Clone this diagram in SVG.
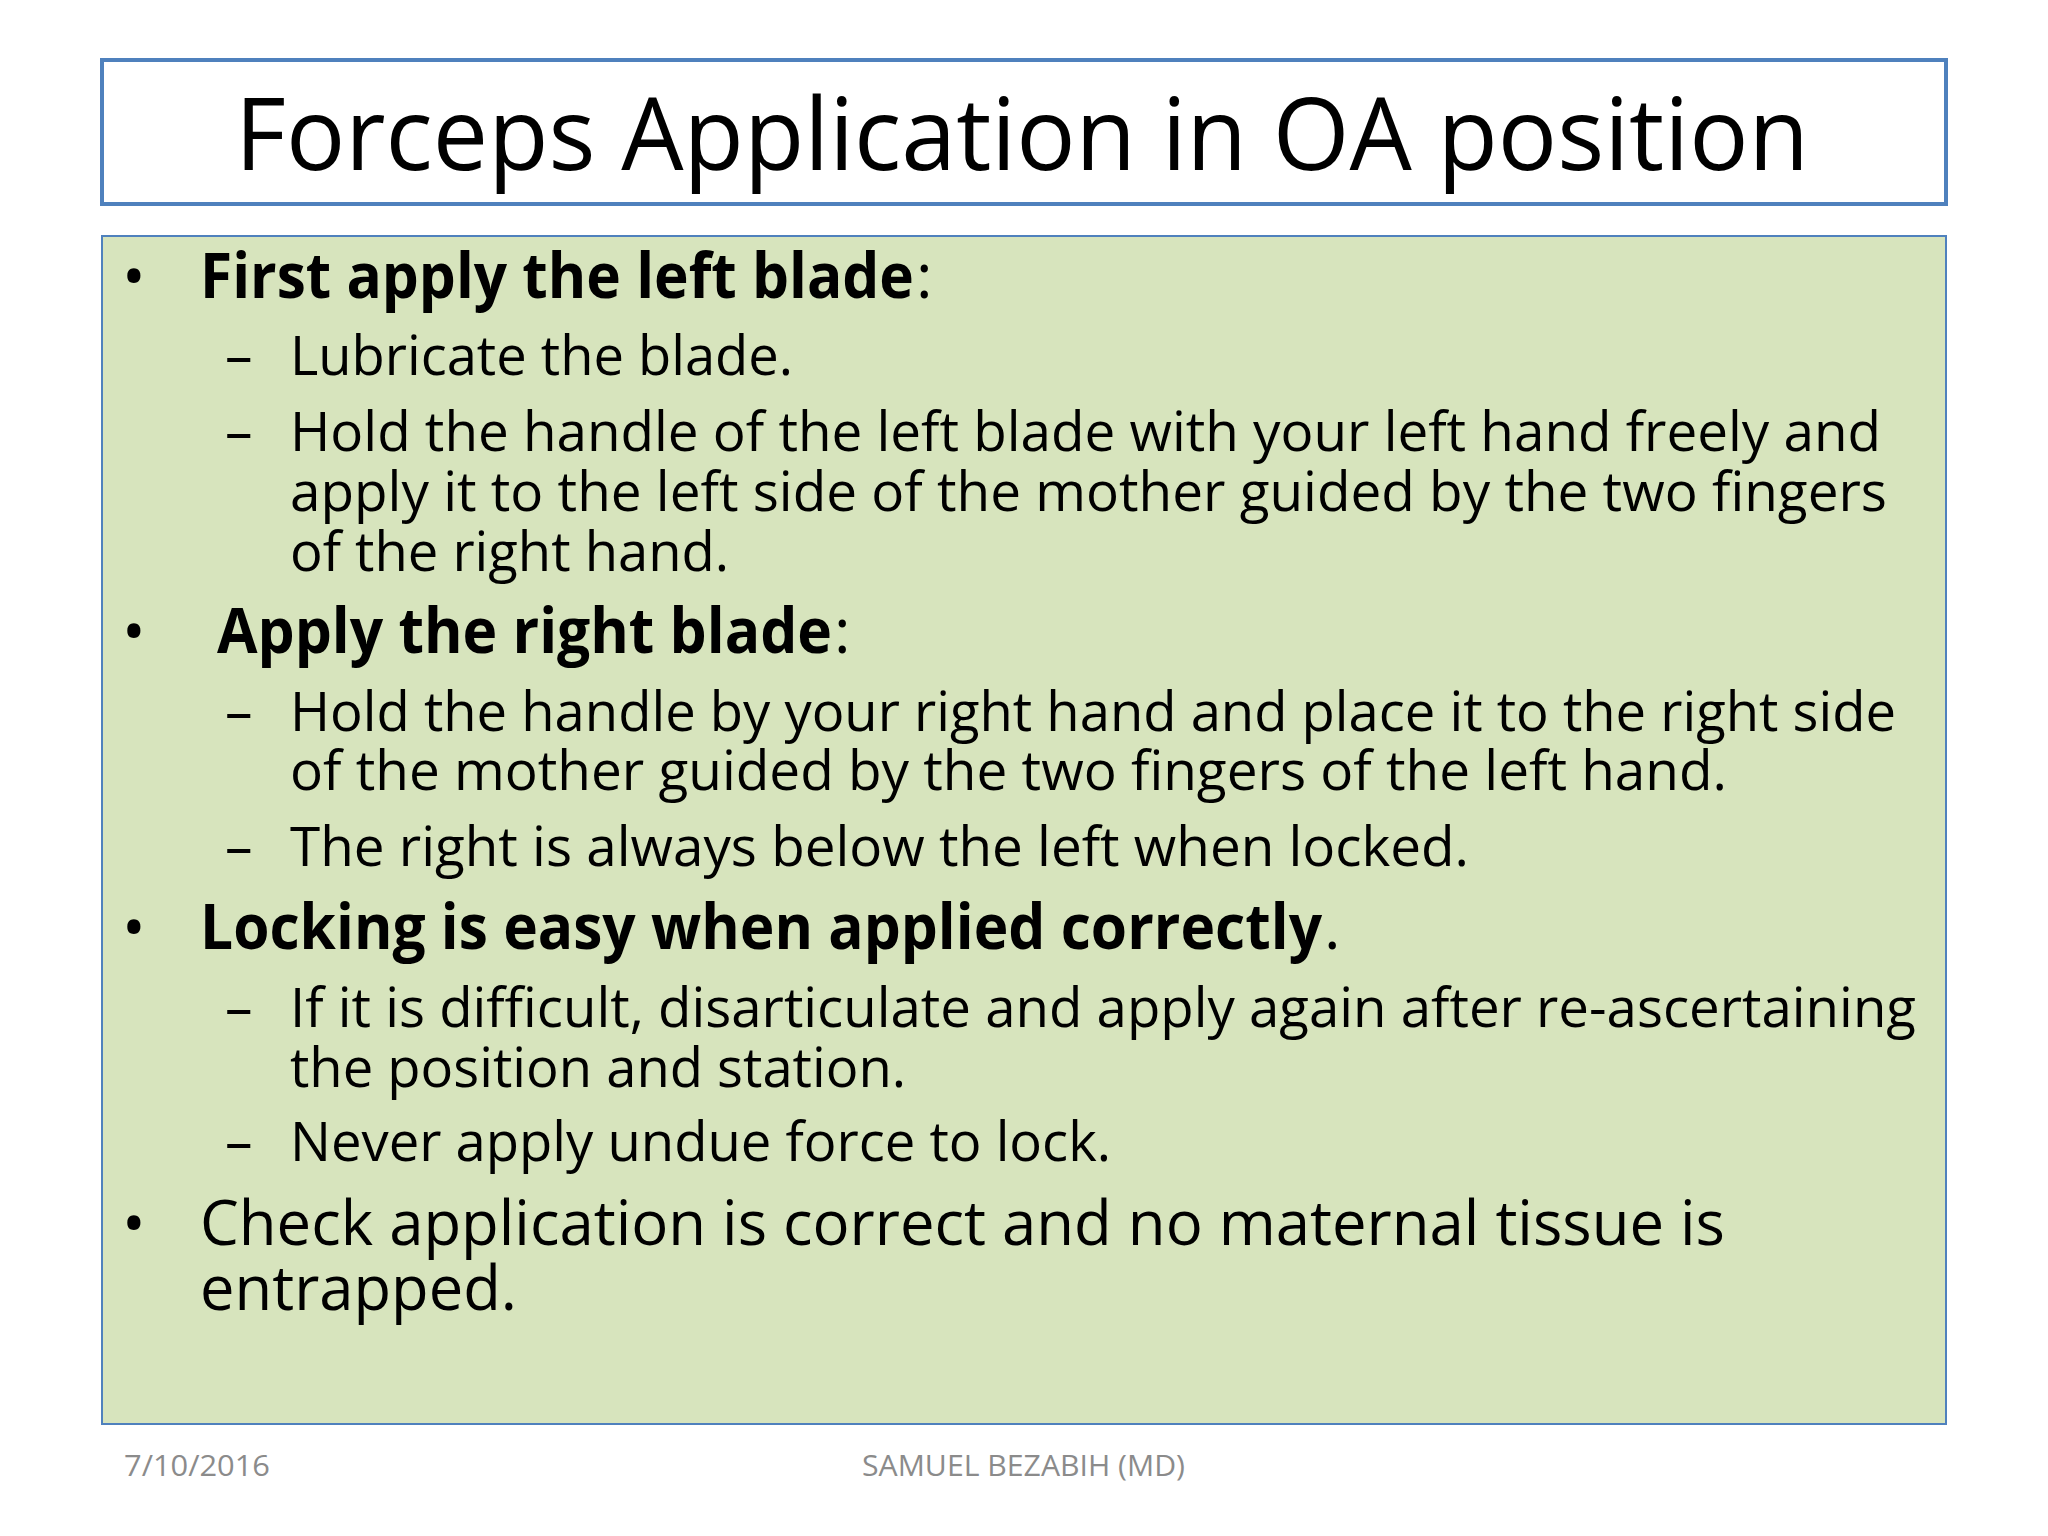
<svg xmlns="http://www.w3.org/2000/svg" width="2048" height="1536" viewBox="0 0 2048 1536">
<style>
text{font-family:"Open Sans","Noto Sans",sans-serif;fill:#000}
.m{font-size:63px}
.s{font-size:55px}
.b{font-weight:bold}
.f{font-size:29px;fill:#8b8b8b}
</style>
<rect width="2048" height="1536" fill="#fff"/>
<g id="title">
<rect x="102" y="60" width="1844" height="144" fill="#fff" stroke="#4f81bd" stroke-width="4"/>
<text x="235" y="170" font-size="100" textLength="1574" lengthAdjust="spacingAndGlyphs">Forceps Application in OA position</text>
</g>
<g id="body">
<rect x="102" y="236" width="1844" height="1188" fill="#d7e4bd" stroke="#4f81bd" stroke-width="2"/>
<text class="m" x="122" y="298">•</text>
<text class="m b" x="200" y="298" textLength="714" lengthAdjust="spacingAndGlyphs">First apply the left blade</text>
<text class="m" x="916" y="298">:</text>
<text class="s" x="225" y="375">–</text>
<text class="s" x="290" y="375" textLength="503" lengthAdjust="spacingAndGlyphs">Lubricate the blade.</text>
<text class="s" x="225" y="451">–</text>
<text class="s" x="290" y="451" textLength="1591" lengthAdjust="spacingAndGlyphs">Hold the handle of the left blade with your left hand freely and</text>
<text class="s" x="290" y="511" textLength="1597" lengthAdjust="spacingAndGlyphs">apply it to the left side of the mother guided by the two fingers</text>
<text class="s" x="290" y="571" textLength="439" lengthAdjust="spacingAndGlyphs">of the right hand.</text>
<text class="m" x="122" y="653">•</text>
<text class="m b" x="217" y="653" textLength="615" lengthAdjust="spacingAndGlyphs">Apply the right blade</text>
<text class="m" x="834" y="653">:</text>
<text class="s" x="225" y="731">–</text>
<text class="s" x="290" y="731" textLength="1606" lengthAdjust="spacingAndGlyphs">Hold the handle by your right hand and place it to the right side</text>
<text class="s" x="290" y="790" textLength="1437" lengthAdjust="spacingAndGlyphs">of the mother guided by the two fingers of the left hand.</text>
<text class="s" x="225" y="866">–</text>
<text class="s" x="290" y="866" textLength="1179" lengthAdjust="spacingAndGlyphs">The right is always below the left when locked.</text>
<text class="m" x="122" y="949">•</text>
<text class="m b" x="200" y="949" textLength="1122" lengthAdjust="spacingAndGlyphs">Locking is easy when applied correctly</text>
<text class="m" x="1324" y="949">.</text>
<text class="s" x="225" y="1027">–</text>
<text class="s" x="290" y="1027" textLength="1626" lengthAdjust="spacingAndGlyphs">If it is difficult, disarticulate and apply again after re-ascertaining</text>
<text class="s" x="290" y="1087" textLength="616" lengthAdjust="spacingAndGlyphs">the position and station.</text>
<text class="s" x="225" y="1161">–</text>
<text class="s" x="290" y="1161" textLength="821" lengthAdjust="spacingAndGlyphs">Never apply undue force to lock.</text>
<text class="m" x="122" y="1245">•</text>
<text class="m" x="200" y="1245" textLength="1525" lengthAdjust="spacingAndGlyphs">Check application is correct and no maternal tissue is</text>
<text class="m" x="200" y="1310" textLength="317" lengthAdjust="spacingAndGlyphs">entrapped.</text>
</g>
<g id="footer">
<text class="f" x="124" y="1476" textLength="146" lengthAdjust="spacingAndGlyphs">7/10/2016</text>
<text class="f" x="862" y="1476" textLength="323" lengthAdjust="spacingAndGlyphs">SAMUEL BEZABIH (MD)</text>
</g>
</svg>
